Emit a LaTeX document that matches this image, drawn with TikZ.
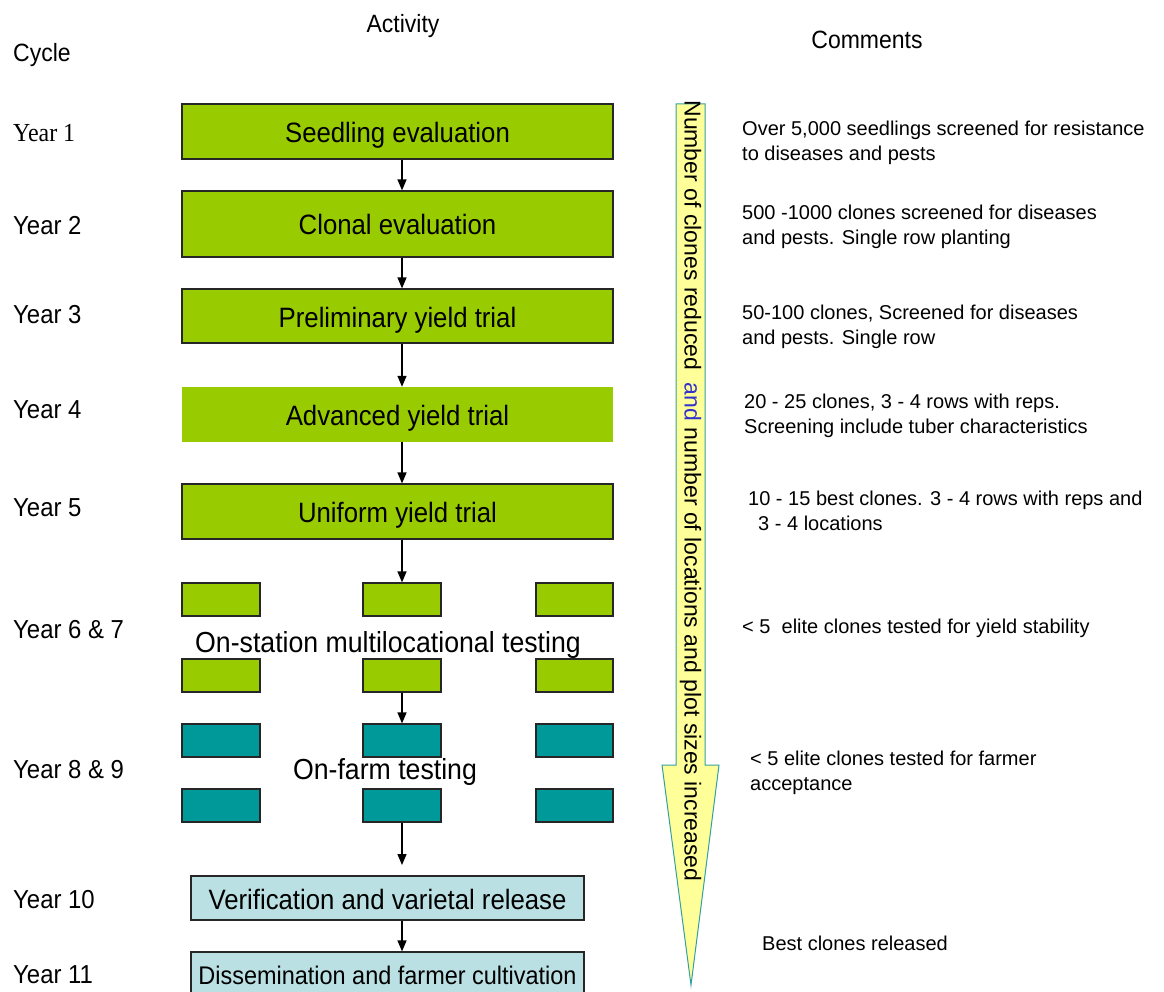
\documentclass[tikz,border=0pt]{standalone}
\usepackage{fontspec}
\setmainfont{Liberation Sans}
\newfontfamily\seriffont[FakeStretch=0.92]{Liberation Serif}
\newfontfamily\condfont[FakeStretch=0.92]{Liberation Sans}
\usetikzlibrary{arrows.meta}
\definecolor{boxgreen}{RGB}{153,204,0}
\definecolor{boxteal}{RGB}{0,153,153}
\definecolor{boxlight}{RGB}{187,224,227}
\definecolor{arrowyellow}{RGB}{255,255,153}
\definecolor{arrowedge}{RGB}{51,160,160}
\definecolor{andblue}{RGB}{51,51,204}
\begin{document}
\begin{tikzpicture}[x=1pt,y=-1pt,
  mainbox/.style={draw=black!85, line width=1.2pt, fill=boxgreen, minimum width=431pt, inner sep=0pt, text height=22pt, text depth=0pt, font=\condfont\fontsize{28}{32}\selectfont},
  plainbox/.style={fill=boxgreen, minimum width=431pt, inner sep=0pt, text height=22pt, text depth=0pt, font=\condfont\fontsize{28}{32}\selectfont},
  smallbox/.style={draw=black!85, line width=1.2pt, minimum height=33pt, inner sep=0pt},
  finalbox/.style={draw=black!85, line width=1.2pt, fill=boxlight, minimum width=393pt, minimum height=44pt, inner sep=0pt, text depth=0pt},
  conn/.style={line width=1.3pt, -{Triangle[length=11pt,width=9pt]}},
  yearlbl/.style={anchor=west, inner sep=0pt, font=\condfont\fontsize{26}{30}\selectfont},
  headlbl/.style={inner sep=0pt, font=\condfont\fontsize{25}{29}\selectfont},
  comment/.style={anchor=west, align=left, inner sep=0pt, font=\fontsize{20}{25.5}\selectfont},
  midlbl/.style={inner sep=0pt, font=\condfont\fontsize{29}{33}\selectfont}
]
\useasboundingbox (0,0) rectangle (1164,992);

% headers
\node[headlbl] (hact) at (403,26) {Activity};
\node[headlbl, anchor=west] (hcyc) at (13,55) {Cycle};
\node[headlbl] (hcom) at (867,40) {Comments};

% year labels
\node[yearlbl, font=\seriffont\fontsize{26}{30}\selectfont] (y1) at (13,133) {Year 1};
\node[yearlbl] (y2) at (13,226) {Year 2};
\node[yearlbl] (y3) at (13,315) {Year 3};
\node[yearlbl] (y4) at (13,410) {Year 4};
\node[yearlbl] (y5) at (13,508) {Year 5};
\node[yearlbl] (y6) at (13,630) {Year 6 \& 7};
\node[yearlbl] (y8) at (13,770) {Year 8 \& 9};
\node[yearlbl] (y10) at (13,900) {Year 10};
\node[yearlbl] (y11) at (13,975) {Year 11};

% main boxes
\node[mainbox, minimum height=55pt] (b1) at (397.5,131.5) {Seedling evaluation};
\node[mainbox, minimum height=66pt] (b2) at (397.5,224) {Clonal evaluation};
\node[mainbox, minimum height=54pt] (b3) at (397.5,316) {Preliminary yield trial};
\node[plainbox, minimum height=55pt] (b4) at (397.5,414.5) {Advanced yield trial};
\node[mainbox, minimum height=55pt] (b5) at (397.5,511.5) {Uniform yield trial};

% on-station small boxes
\node[smallbox, fill=boxgreen, minimum width=78pt] (s11) at (221,599.5) {};
\node[smallbox, fill=boxgreen, minimum width=78pt] (s12) at (402,599.5) {};
\node[smallbox, fill=boxgreen, minimum width=77pt] (s13) at (574.5,599.5) {};
\node[midlbl, anchor=west] (onst) at (195,645) {On-station multilocational testing};
\node[smallbox, fill=boxgreen, minimum width=78pt] (s21) at (221,675.5) {};
\node[smallbox, fill=boxgreen, minimum width=78pt] (s22) at (402,675.5) {};
\node[smallbox, fill=boxgreen, minimum width=77pt] (s23) at (574.5,675.5) {};

% on-farm small boxes
\node[smallbox, fill=boxteal, minimum width=78pt] (t11) at (221,740.5) {};
\node[smallbox, fill=boxteal, minimum width=78pt] (t12) at (402,740.5) {};
\node[smallbox, fill=boxteal, minimum width=77pt] (t13) at (574.5,740.5) {};
\node[midlbl] (onfarm) at (385,772) {On-farm testing};
\node[smallbox, fill=boxteal, minimum width=78pt] (t21) at (221,805.5) {};
\node[smallbox, fill=boxteal, minimum width=78pt] (t22) at (402,805.5) {};
\node[smallbox, fill=boxteal, minimum width=77pt] (t23) at (574.5,805.5) {};

% final boxes
\node[finalbox, text height=22pt, font=\condfont\fontsize{28}{32}\selectfont] (ver) at (387.5,898) {Verification and varietal release};
\node[finalbox, text height=20pt, font=\condfont\fontsize{25.5}{29}\selectfont] (dis) at (387.5,974) {Dissemination and farmer cultivation};

% connectors
\coordinate (ax) at (402,0);
\coordinate (vend) at (402,865);
\draw[conn] (b1.south -| ax) -- (b2.north -| ax);
\draw[conn] (b2.south -| ax) -- (b3.north -| ax);
\draw[conn] (b3.south -| ax) -- (b4.north -| ax);
\draw[conn] (b4.south -| ax) -- (b5.north -| ax);
\draw[conn] (b5.south -| ax) -- (s12.north);
\draw[conn] (s22.south) -- (t12.north);
\draw[conn] (t22.south) -- (vend);
\draw[conn] (ver.south -| ax) -- (dis.north -| ax);

% big arrow
\draw[arrowedge, line width=1pt, fill=arrowyellow]
  (676,104) -- (705,104) -- (705,765) -- (719,765) -- (691,985) -- (662,765) -- (676,765) -- cycle;
\node[rotate=-90, inner sep=0pt, font=\fontsize{23}{26}\selectfont] (atxt) at (690.5,491)
  {Number of clones reduced\ \ \textcolor{andblue}{and} number of locations and plot sizes increased};

% comments
\node[comment] (c1) at (742,143) {Over 5,000 seedlings screened for resistance\\to diseases and pests};
\node[comment] (c2) at (742,227) {500 -1000 clones screened for diseases\\and pests. Single row planting};
\node[comment] (c3) at (742,327) {50-100 clones, Screened for diseases\\and pests. Single row};
\node[comment] (c4) at (744,416) {20 - 25 clones, 3 - 4 rows with reps.\\Screening include tuber characteristics};
\node[comment] (c5) at (748,511) {10 - 15 best clones. 3 - 4 rows with reps and\\\hspace*{10pt}3 - 4 locations};
\node[comment] (c6) at (742,628) {< 5\ \ elite clones tested for yield stability};
\node[comment] (c7) at (750,773) {< 5 elite clones tested for farmer\\acceptance};
\node[comment] (c8) at (762,943) {Best clones released};
\end{tikzpicture}
\end{document}
